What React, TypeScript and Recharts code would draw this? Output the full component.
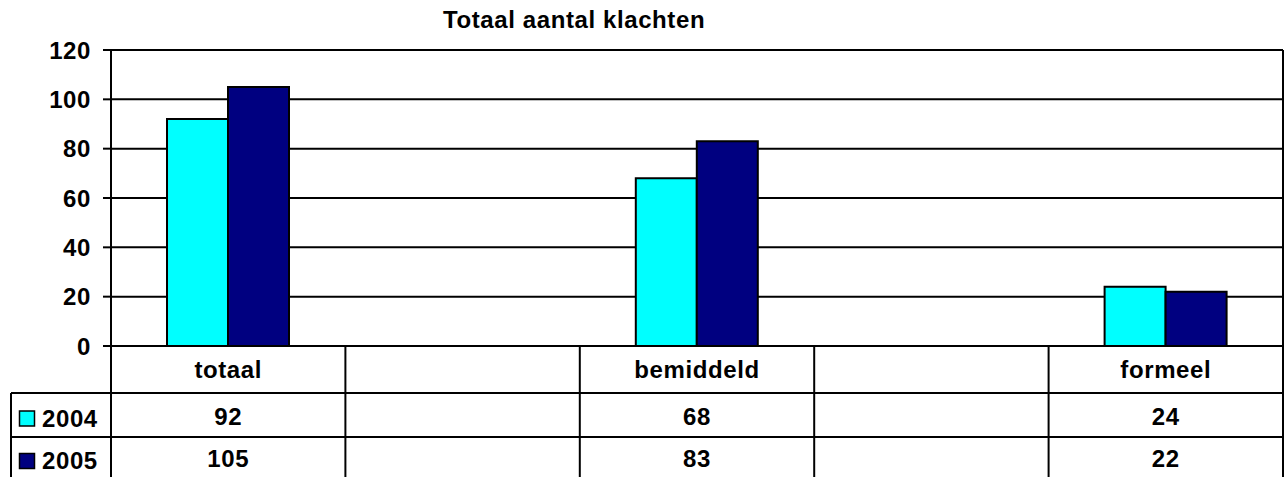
import { BarChart, Bar, XAxis, YAxis, CartesianGrid } from 'recharts';

const categories = ['totaal', '', 'bemiddeld', '', 'formeel'];
const values2004 = [92, null, 68, null, 24];
const values2005 = [105, null, 83, null, 22];
const seriesNames = ['2004', '2005'];
const yTicks = [0, 20, 40, 60, 80, 100, 120];

const data = categories.map((name, i) => ({
  name,
  y2004: values2004[i],
  y2005: values2005[i],
}));

const COLORS = ['#00FFFF', '#000080'];
const FONT = '"Liberation Sans", Arial, sans-serif';

// layout of the chart + data table underneath
const W = 1288;
const H = 477;
const PLOT_LEFT = 111;
const PLOT_RIGHT = 1283;
const PLOT_TOP = 50;
const AXIS_Y = 346;
const ROW_1 = 393;
const ROW_2 = 437;
const TABLE_LEFT = 11;
const COL_W = (PLOT_RIGHT - PLOT_LEFT) / categories.length;

const textStyle = { fontFamily: FONT, fontWeight: 700, fontSize: 24, letterSpacing: 0.6 };

function TableTick(props: any) {
  const { x, payload } = props;
  const i = payload.index;
  const left = x - COL_W / 2;
  const right = x + COL_W / 2;
  const rows = [values2004[i], values2005[i]];
  return (
    <g>
      <line x1={right} y1={AXIS_Y} x2={right} y2={H + 5} stroke="#000" strokeWidth={2} />
      {i === 0 && <line x1={left} y1={AXIS_Y} x2={left} y2={H + 5} stroke="#000" strokeWidth={2} />}
      <line x1={left} y1={ROW_1} x2={right} y2={ROW_1} stroke="#000" strokeWidth={2} />
      <line x1={left} y1={ROW_2} x2={right} y2={ROW_2} stroke="#000" strokeWidth={2} />
      <text x={x} y={370} dy="0.35em" textAnchor="middle" fill="#000" style={textStyle}>
        {payload.value}
      </text>
      {rows.map((v, r) => (
        <text key={r} x={x} y={r === 0 ? 416.5 : 458.5} dy="0.35em" textAnchor="middle" fill="#000" style={textStyle}>
          {v == null ? '' : v}
        </text>
      ))}
      {i === 0 && (
        <g>
          <line x1={TABLE_LEFT} y1={ROW_1} x2={left} y2={ROW_1} stroke="#000" strokeWidth={2} />
          <line x1={TABLE_LEFT} y1={ROW_2} x2={left} y2={ROW_2} stroke="#000" strokeWidth={2} />
          <line x1={TABLE_LEFT} y1={ROW_1} x2={TABLE_LEFT} y2={H + 5} stroke="#000" strokeWidth={2} />
          {seriesNames.map((s, r) => {
            const cy = r === 0 ? 418.5 : 461;
            return (
              <g key={s}>
                <rect x={19.5} y={cy - 7.5} width={15} height={15} fill={COLORS[r]} stroke="#000" strokeWidth={1.5} />
                <text x={42} y={cy} dy="0.35em" textAnchor="start" fill="#000" style={textStyle}>
                  {s}
                </text>
              </g>
            );
          })}
        </g>
      )}
    </g>
  );
}

export default function App() {
  return (
    <div style={{ position: 'absolute', left: 0, top: 0, width: W, height: H, background: '#fff' }}>
      <div
        style={{
          position: 'absolute',
          left: 443,
          top: 8,
          fontFamily: FONT,
          fontWeight: 700,
          fontSize: 24,
          lineHeight: '24px',
          letterSpacing: 0.6,
          whiteSpace: 'nowrap',
          color: '#000',
        }}
      >
        Totaal aantal klachten
      </div>
      <BarChart
        width={W}
        height={H}
        data={data}
        margin={{ top: PLOT_TOP, right: 0, bottom: 0, left: 0 }}
        barGap={0}
        barSize={61}
      >
        <CartesianGrid vertical={false} stroke="#000" strokeWidth={2} />
        <XAxis
          dataKey="name"
          height={H - AXIS_Y}
          interval={0}
          tickLine={false}
          axisLine={{ stroke: '#000', strokeWidth: 2 }}
          tick={(p: any) => <TableTick {...p} />}
        />
        <YAxis
          width={PLOT_LEFT}
          domain={[0, 120]}
          ticks={yTicks}
          interval={0}
          tickSize={8}
          tickMargin={12}
          axisLine={{ stroke: '#000', strokeWidth: 2 }}
          tickLine={{ stroke: '#000', strokeWidth: 2 }}
          tick={{ fill: '#000', ...textStyle }}
        />
        <YAxis
          yAxisId="right"
          orientation="right"
          width={W - PLOT_RIGHT}
          domain={[0, 120]}
          tick={false}
          tickLine={false}
          axisLine={{ stroke: '#000', strokeWidth: 2 }}
        />
        <Bar dataKey="y2004" name="2004" fill={COLORS[0]} stroke="#000" strokeWidth={2} isAnimationActive={false} />
        <Bar dataKey="y2005" name="2005" fill={COLORS[1]} stroke="#000" strokeWidth={2} isAnimationActive={false} />
      </BarChart>
    </div>
  );
}
